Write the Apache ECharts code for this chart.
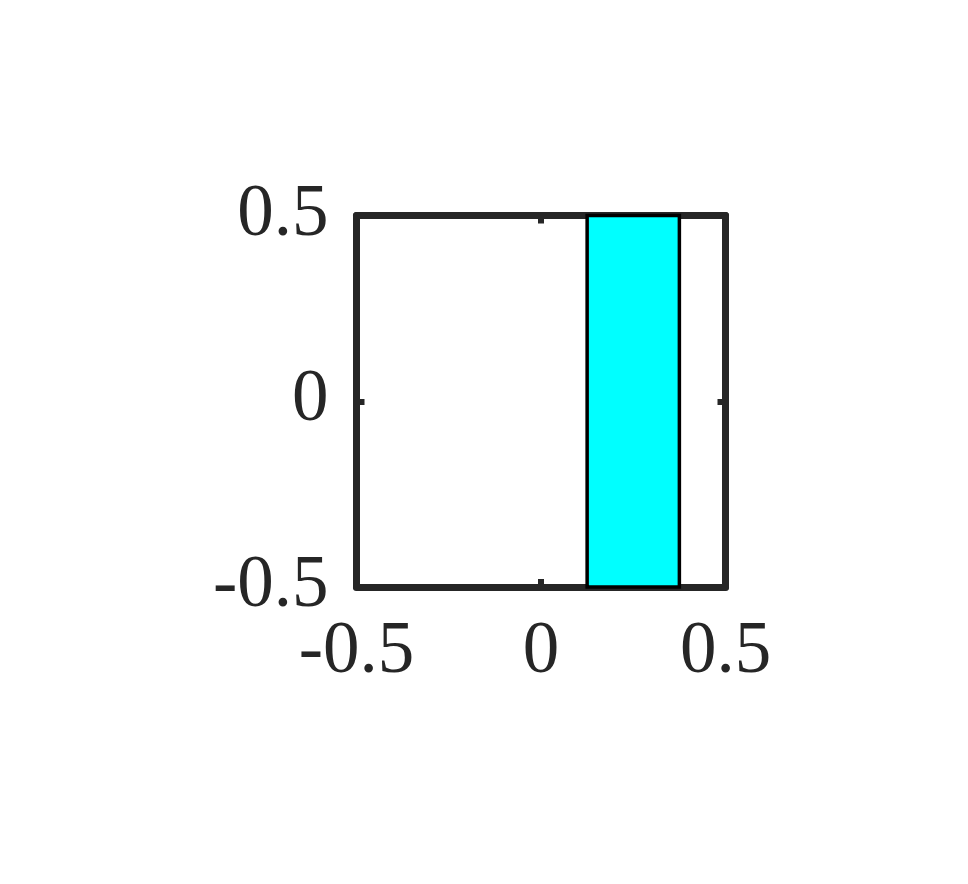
<!DOCTYPE html>
<html>
<head>
<meta charset="utf-8">
<script src="https://cdn.jsdelivr.net/npm/echarts@6/dist/echarts.min.js"></script>
<style>
html,body{margin:0;padding:0;background:#fff;}
#chart{width:968px;height:884px;}
</style>
</head>
<body>
<div id="chart"></div>
<script>
// bar extents (data units)
var barLeft = [0.125];
var barRight = [0.375];
var barBottom = [-0.5];
var barTop = [0.5];
var xTicks = [-0.5, 0, 0.5];
var yTicks = [-0.5, 0, 0.5];

var axisColor = '#262626';
var labelFont = 'Liberation Serif';

var rects = [];
for (var i = 0; i < barLeft.length; i++) {
	rects.push([barLeft[i], barRight[i], barBottom[i], barTop[i]]);
}

function fmt(v){
	return String(v);
}

function baseAxis(showLabel, margin){
	return {
		type: 'value',
		min: xTicks[0],
		max: xTicks[xTicks.length-1],
		interval: 0.5,
		splitLine: {show: false},
		axisLine: {show: true, onZero: false, lineStyle: {color: axisColor, width: 7}},
		axisTick: {show: true, inside: true, length: 8, lineStyle: {color: axisColor, width: 6}},
		axisLabel: {show: showLabel, color: axisColor, fontFamily: labelFont, fontSize: 73, margin: margin, formatter: fmt}
	};
}

var chart = echarts.init(document.getElementById('chart'));
var xb = baseAxis(true, 29); xb.position = 'bottom';
var xt = baseAxis(false, 0); xt.position = 'top';
var yl = baseAxis(true, 28); yl.position = 'left'; yl.min = yTicks[0]; yl.max = yTicks[yTicks.length-1];
var yr = baseAxis(false, 0); yr.position = 'right'; yr.min = yTicks[0]; yr.max = yTicks[yTicks.length-1];

chart.setOption({
	animation: false,
	backgroundColor: '#ffffff',
	grid: {left: 356.5, right: 242.5, top: 215.5, bottom: 297, containLabel: false},
	xAxis: [xb, xt],
	yAxis: [yl, yr],
	series: [{
		type: 'custom',
		xAxisIndex: 0,
		yAxisIndex: 0,
		data: rects,
		z: 1,
		renderItem: function(params, api){
			var p0 = api.coord([api.value(0), api.value(3)]);
			var p1 = api.coord([api.value(1), api.value(2)]);
			return {
				type: 'rect',
				shape: {x: p0[0], y: p0[1], width: p1[0]-p0[0], height: p1[1]-p0[1]},
				style: {fill: '#00ffff', stroke: '#000000', lineWidth: 3.5}
			};
		}
	}]
});
</script>
</body>
</html>
